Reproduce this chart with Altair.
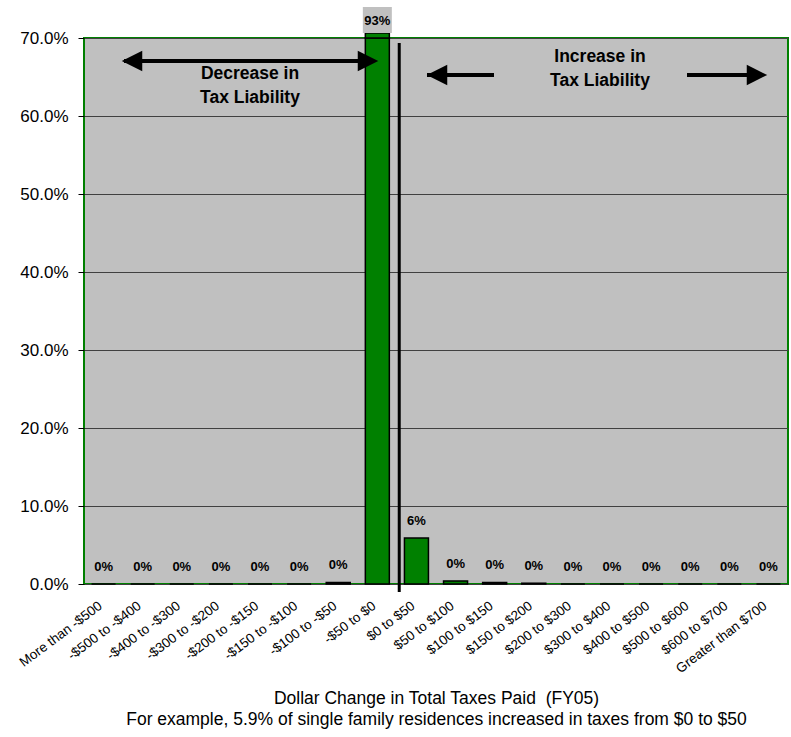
import altair as alt
import pandas as pd

# Distribution of single family residences by dollar change in taxes (FY05)
categories = [
    "More than -$500", "-$500 to -$400", "-$400 to -$300", "-$300 to -$200",
    "-$200 to -$150", "-$150 to -$100", "-$100 to -$50", "-$50 to $0",
    "$0 to $50", "$50 to $100", "$100 to $150", "$150 to $200",
    "$200 to $300", "$300 to $400", "$400 to $500", "$500 to $600",
    "$600 to $700", "Greater than $700",
]
shares = [
    0.0, 0.0, 0.0, 0.0,
    0.0, 0.0, 0.002, 0.932,
    0.059, 0.004, 0.002, 0.001,
    0.0, 0.0, 0.0, 0.0,
    0.0, 0.0,
]
y_ticks = [0.0, 0.1, 0.2, 0.3, 0.4, 0.5, 0.6, 0.7]
axis_max = 0.7

df = pd.DataFrame({"cat": categories, "share": shares})

GREEN = "#008000"
FONT = "Liberation Sans"
W, H = 704, 546

x_enc = alt.X("cat:N", sort=categories, scale=alt.Scale(paddingInner=0, paddingOuter=0),
              axis=alt.Axis(
                  title=["Dollar Change in Total Taxes Paid\u00a0 (FY05)",
                         "For example, 5.9% of single family residences increased in taxes from $0 to $50"],
                  titleFontSize=17.5, titleFontWeight="normal", titleColor="black",
                  titleFont=FONT, titleLineHeight=21, titleY=119, titleBaseline="alphabetic",
                  labelAngle=-37, labelAlign="right", labelBaseline="middle",
                  labelFontSize=13.5, labelFontWeight="normal", labelColor="black",
                  labelPadding=20, labelOffset=-3,
                  ticks=False, domain=False, grid=False, labelOverlap=False))
y_scale = alt.Scale(domain=[0, axis_max], clamp=True, nice=False)

base = alt.Chart(df)

bars = base.mark_bar(size=24, color=GREEN, stroke="black", strokeWidth=1.5).encode(
    x=x_enc,
    y=alt.Y("share:Q", scale=y_scale,
            axis=alt.Axis(title=None, values=y_ticks, format=".1%",
                          labelFontSize=17, labelFontWeight="normal", labelColor="black",
                          labelFont=FONT, tickSize=6, tickColor="black", labelPadding=10,
                          domain=False, grid=True, gridColor="#404040", gridWidth=1)),
)

# Part of an off-scale bar poking above the plot, and the box behind its label
over = base.transform_filter(alt.datum.share > axis_max)
overshoot = over.mark_bar(size=24, color=GREEN, stroke="black", strokeWidth=1.5).encode(
    x=alt.X("cat:N", sort=categories), y=alt.value(-5), y2=alt.value(0))
label_box = over.mark_bar(size=29, color="#c0c0c0").encode(
    x=alt.X("cat:N", sort=categories), y=alt.value(-31), y2=alt.value(-5))

labels = base.transform_calculate(
    ly=f"min(datum.share, {axis_max})"
).mark_text(dy=-17, fontSize=13, fontWeight="bold", font=FONT, color="black",
            baseline="middle").encode(
    x=alt.X("cat:N", sort=categories),
    y=alt.Y("ly:Q", scale=y_scale),
    text=alt.Text("share:Q", format=".0%"),
)

# Divider between decreases and increases
divider = alt.Chart(pd.DataFrame({"cat": ["$0 to $50"]})).mark_rule(
    color="black", strokeWidth=3).encode(
    x=alt.X("cat:N", sort=categories, bandPosition=0.06),
    y=alt.value(5), y2=alt.value(H + 8))

# Arrows and captions
shafts = pd.DataFrame({"x": [40, 343, 603], "x2": [290, 410, 668], "y": [23, 37, 37]})
shaft = alt.Chart(shafts).mark_rule(color="black", strokeWidth=4).encode(
    x=alt.X("x:Q", scale=None), x2="x2:Q", y=alt.Y("y:Q", scale=None))

RIGHT = "M-1,-1 L1,0 L-1,1 Z"
LEFT = "M1,-1 L-1,0 L1,1 Z"
heads = pd.DataFrame({"x": [48, 284, 353, 673], "y": [23, 23, 37, 37],
                      "shape": [LEFT, RIGHT, LEFT, RIGHT]})
head = alt.Chart(heads).mark_point(filled=True, color="black", opacity=1, size=420,
                                   strokeWidth=0).encode(
    x=alt.X("x:Q", scale=None), y=alt.Y("y:Q", scale=None),
    shape=alt.Shape("shape:N", scale=None))

captions = pd.DataFrame({"x": [166, 166, 516, 516], "y": [36, 60, 19, 43],
                         "t": ["Decrease in", "Tax Liability", "Increase in", "Tax Liability"]})
caption = alt.Chart(captions).mark_text(fontSize=17.5, fontWeight="bold", font=FONT,
                                        color="black", baseline="middle").encode(
    x=alt.X("x:Q", scale=None), y=alt.Y("y:Q", scale=None), text="t:N")

chart = alt.layer(bars, overshoot, label_box, labels, divider, shaft, head, caption).properties(
    width=W, height=H,
    autosize=alt.AutoSizeParams(type="none"),
    padding={"left": 84, "top": 38, "right": 3, "bottom": 153},
    background="white",
).configure_view(
    fill="#c0c0c0", stroke=GREEN, strokeWidth=2,
).configure_axis(
    labelFont=FONT, titleFont=FONT,
)

chart.save("out.html", embed_options={"renderer": "svg", "actions": False})
